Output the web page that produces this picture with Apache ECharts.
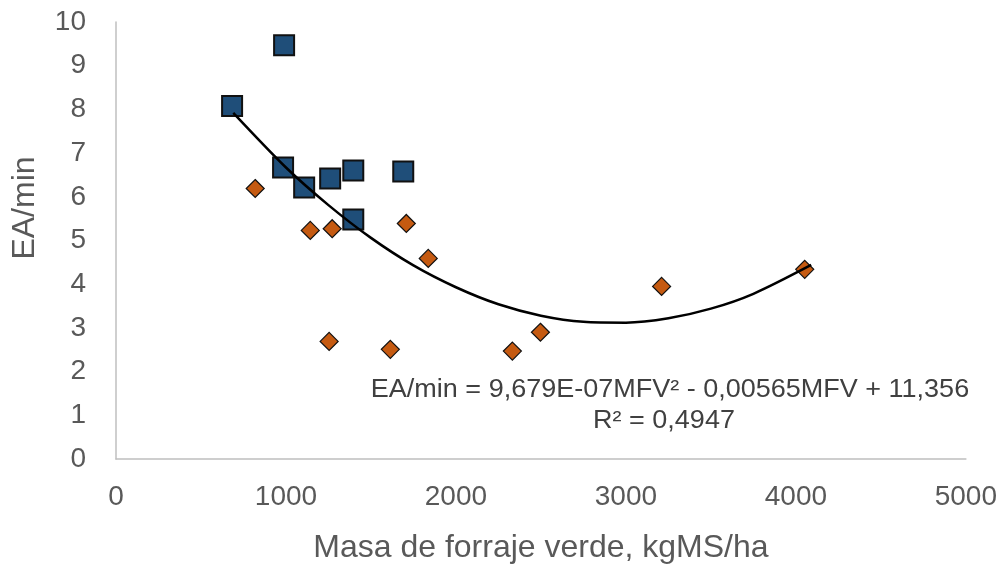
<!DOCTYPE html>
<html>
<head>
<meta charset="utf-8">
<script src="https://cdn.jsdelivr.net/npm/echarts@6/dist/echarts.min.js"></script>
<style>
    html, body {margin:0; padding:0; background:#fff;}
    #chart {width:1000px; height:572px;}
</style>
</head>
<body>
<div id="chart"></div>
<script>

/* datos */
var blueX = [683, 989, 983, 1107, 1260, 1396, 1690, 1396];
var blueY = [8.08, 9.47, 6.67, 6.21, 6.42, 6.6, 6.58, 5.48];

var orangeX = [819, 1143, 1272, 1708, 1837, 1254, 1614, 2332, 2497, 3210, 4052];
var orangeY = [6.19, 5.23, 5.27, 5.39, 4.59, 2.69, 2.51, 2.47, 2.9, 3.95, 4.34];

/* linea de tendencia */
var trendX = [690, 1000, 1250, 1500, 1750, 2000, 2250, 2500, 2750, 3000, 3250, 3500, 3750, 4090];
var trendY = [7.92, 6.67, 5.81, 5.06, 4.43, 3.93, 3.54, 3.28, 3.14, 3.12, 3.22, 3.44, 3.78, 4.44];

var xTicks = [0, 1000, 2000, 3000, 4000, 5000];
var yTicks = [0, 1, 2, 3, 4, 5, 6, 7, 8, 9, 10];

function pairs(xs, ys) {
    var out = [];
    for (var i = 0; i < xs.length; i++) {
        out.push([xs[i], ys[i]]);
    }
    return out;
}

var chart = echarts.init(document.getElementById("chart"));

var option = {
    animation:false,
    grid:{left:116, right:33, top:22, bottom:113},
    xAxis:{
        type:'value',
        min:xTicks[0],
        max:xTicks[xTicks.length - 1],
        interval:1000,
        axisLine:{lineStyle:{color:'#bfbfbf', width:1.5}},
        axisTick:{show:false},
        splitLine:{show:false},
        axisLabel:{color:'#595959', fontSize:28, fontFamily:'Liberation Sans', margin:24,
            formatter:function (v) { return String(v); }},
        name:'Masa de forraje verde, kgMS/ha',
        nameLocation:'middle',
        nameGap:73,
        nameTextStyle:{color:'#595959', fontSize:32, fontFamily:'Liberation Sans'}
    },
    yAxis:{
        type:'value',
        min:yTicks[0],
        max:yTicks[yTicks.length - 1],
        interval:1,
        axisLine:{show:true, lineStyle:{color:'#bfbfbf', width:1.5}},
        axisTick:{show:false},
        splitLine:{show:false},
        axisLabel:{color:'#595959', fontSize:28, fontFamily:'Liberation Sans', margin:30}
    },
    graphic:[
        {
            type:'text', x:25, y:208, rotation:Math.PI / 2,
            style:{text:'EA/min', fill:'#595959', font:'32px "Liberation Sans"',
                align:'center', verticalAlign:'middle'}
        },
        {
            type:'text', x:670, y:390, scaleX:1.08,
            style:{text:'EA/min = 9,679E-07MFV² - 0,00565MFV + 11,356', fill:'#404040',
                font:'25px "Liberation Sans"', align:'center', verticalAlign:'middle'}
        },
        {
            type:'text', x:664, y:421, scaleX:1.08,
            style:{text:'R² = 0,4947', fill:'#404040',
                font:'25px "Liberation Sans"', align:'center', verticalAlign:'middle'}
        }
    ],
    series:[
        {
            type:'line',
            data:pairs(trendX, trendY),
            smooth:0.3,
            symbol:'none',
            lineStyle:{color:'#000', width:2.5},
            z:3
        },
        {
            type:'scatter',
            data:pairs(blueX, blueY),
            symbol:'rect',
            symbolSize:20,
            itemStyle:{color:'#1f4e79', borderColor:'#111', borderWidth:2, opacity:1},
            z:2
        },
        {
            type:'scatter',
            data:pairs(orangeX, orangeY),
            symbol:'diamond',
            symbolSize:18,
            itemStyle:{color:'#c55a11', borderColor:'#111', borderWidth:1.2, opacity:1},
            z:2
        }
    ]
};

chart.setOption(option);

</script>
</body>
</html>
